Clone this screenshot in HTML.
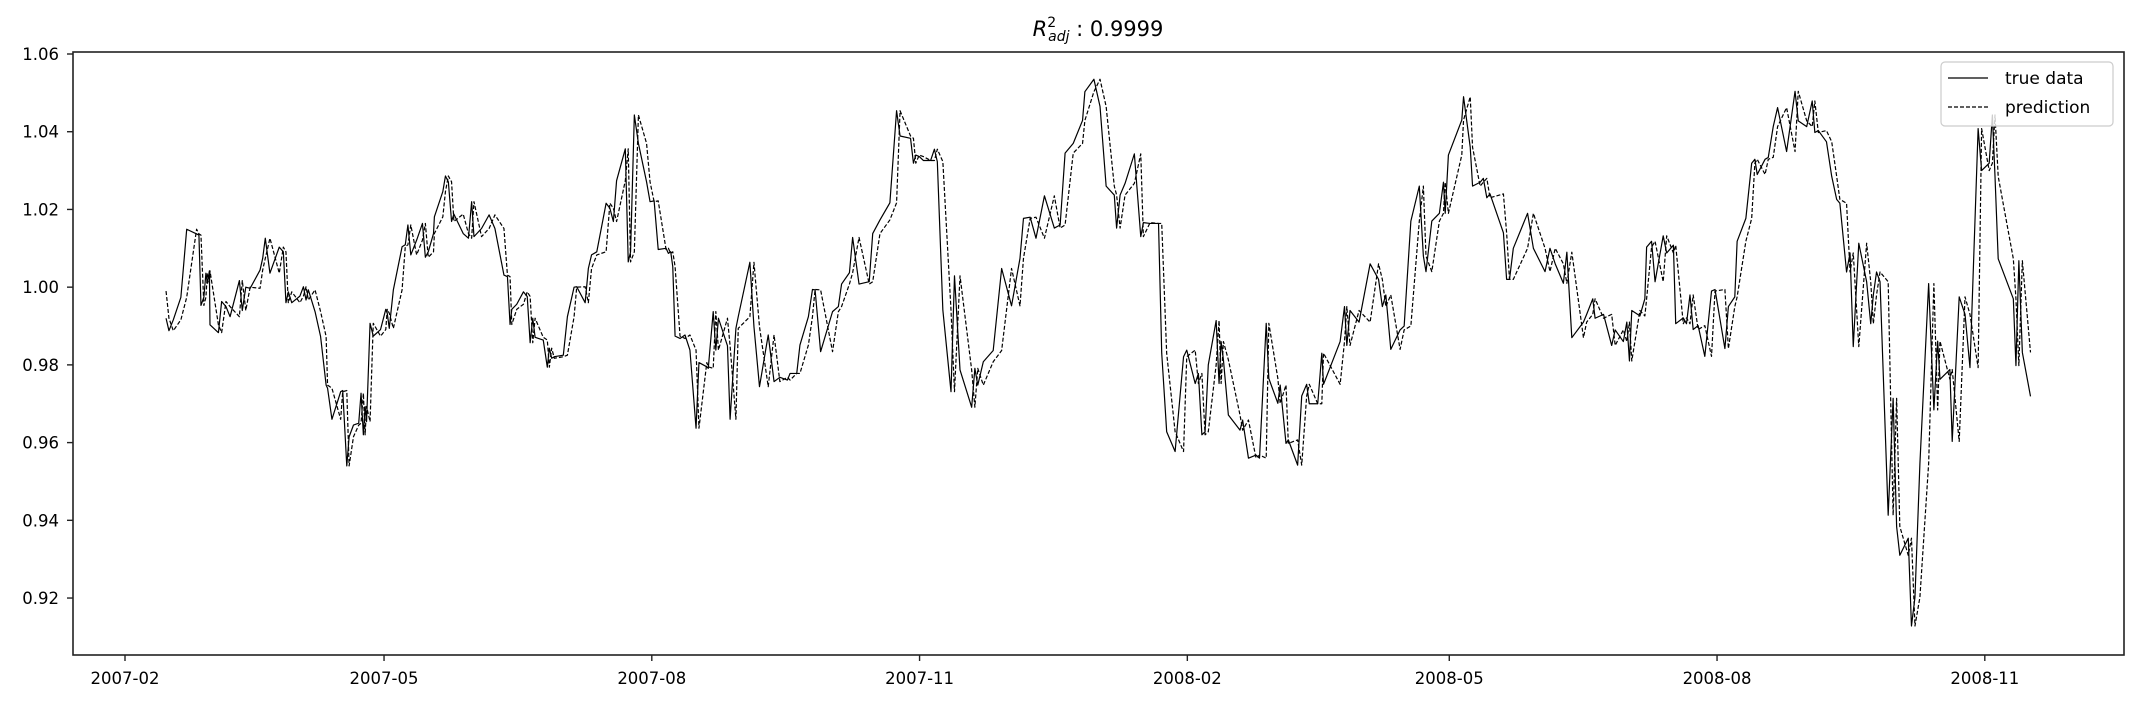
<!DOCTYPE html>
<html><head><meta charset="utf-8"><style>
html,body{margin:0;padding:0;background:#fff;}
svg{display:block;font-family:"DejaVu Sans","Liberation Sans",sans-serif;}
</style></head><body>
<svg id="chart" width="2141" height="702" viewBox="0 0 2141 702" xmlns="http://www.w3.org/2000/svg">
<rect width="2141" height="702" fill="#fff"/>
<text x="1098" y="36" font-size="21" text-anchor="middle" fill="#000"><tspan font-style="italic">R</tspan><tspan font-size="14" dy="-9">2</tspan><tspan font-size="14" font-style="italic" dx="-8" dy="14">adj</tspan><tspan dy="-5"> : 0.9999</tspan></text>
<g id="plot"></g>
<g id="axes"></g>
<g>
<rect x="1941" y="62" width="172" height="64" rx="4" fill="#fff" fill-opacity="0.8" stroke="#ccc" stroke-width="1.2"/>
<line x1="1948" y1="78" x2="1988" y2="78" stroke="#000" stroke-width="1.2"/>
<text x="2005" y="84" font-size="17">true data</text>
<line x1="1948" y1="107" x2="1988" y2="107" stroke="#000" stroke-width="1.2" stroke-dasharray="4,2"/>
<text x="2005" y="113" font-size="17">prediction</text>
</g>
</svg>
<script>
const trueDays=[14.1,15.1,16.6,19.2,21.2,24.6,25.4,26.1,27.1,27.8,28.3,29.0,29.2,32.1,33.2,34.7,36.1,39.3,40.3,41.5,43.0,46.4,47.3,48.2,49.8,53.0,54.4,55.3,56.1,57.3,60.1,61.3,62.2,63.0,65.3,67.2,69.1,69.6,71.1,74.1,74.8,76.2,77.0,78.5,80.3,81.1,81.9,82.5,83.0,84.2,85.3,87.8,89.6,90.1,90.8,92.2,95.2,96.3,97.2,98.2,100.2,102.2,103.2,104.2,106.0,106.3,109.2,110.1,111.1,112.2,113.0,116.2,118.0,119.1,119.9,122.5,125.1,127.1,130.2,131.4,132.3,132.9,134.6,136.9,138.2,139.2,140.1,140.9,143.7,145.1,145.8,146.6,147.5,150.6,152.0,154.3,155.2,158.1,159.2,160.3,162.1,165.3,166.6,167.8,168.9,171.9,172.9,173.7,175.0,176.4,179.2,180.4,181.8,183.2,185.9,186.7,187.5,188.2,189.0,190.7,192.4,194.1,196.2,197.2,199.9,200.4,202.1,203.0,203.9,207.0,207.9,209.9,210.7,214.7,216.1,218.0,221.0,223.0,225.0,227.6,228.5,230.8,231.9,234.8,236.2,237.1,239.0,243.1,245.1,246.2,248.9,250.0,252.2,255.7,256.9,259.4,262.8,265.1,266.3,269.9,270.9,271.7,272.9,274.3,276.8,278.1,279.1,281.0,283.8,285.0,286.9,290.9,292.0,293.0,294.9,298.3,301.2,304.6,307.5,308.7,311.0,313.0,315.9,319.3,321.3,323.0,325.8,329.0,329.8,332.9,335.0,337.1,339.9,340.7,341.9,343.6,346.8,349.0,349.9,352.2,355.1,356.2,357.9,360.8,363.7,364.8,367.7,368.8,370.0,371.1,372.2,374.9,375.9,376.6,377.4,379.1,383.1,384.0,386.0,388.6,389.8,392.1,393.0,396.1,396.9,398.9,399.7,402.9,404.3,406.0,406.9,409.8,411.2,411.8,417.5,419.0,419.8,420.9,424.0,427.8,430.7,432.0,433.2,434.9,438.1,439.5,441.8,444.7,446.1,447.0,449.0,451.6,453.0,453.6,454.7,459.3,459.9,462.2,463.0,465.6,466.7,467.9,469.0,473.6,474.7,475.7,477.0,481.9,483.9,487.9,489.6,491.4,494.2,495.4,497.1,501.1,502.2,504.3,505.1,508.0,510.8,512.0,514.8,516.0,516.9,517.7,520.5,522.2,522.8,524.5,525.7,528.5,529.7,532.0,532.8,535.4,536.5,537.7,538.8,540.5,542.8,545.1,546.3,549.7,550.9,553.1,553.9,556.9,558.9,560.0,560.8,563.5,564.6,566.3,567.8,570.9,573.8,574.9,577.8,579.7,580.6,581.8,584.6,586.4,588.1,589.2,591.5,592.7,593.8,595.7,598.4,599.8,600.7,601.8,603.0,605.8,607.5,608.7,609.8,612.7,613.8,615.0,616.7,619.7,621.5,622.8,623.6,627.0,627.8,630.2,632.2,633.9,636.7,637.9,640.5,641.6,642.5,643.6,648.8,649.7,650.7,651.9,654.7];
const trueValues=[0.9920,0.9888,0.9916,0.9974,1.0149,1.0137,1.0134,0.9953,0.9974,1.0036,1.0010,1.0042,0.9903,0.9883,0.9963,0.9950,0.9924,1.0017,0.9940,1.0000,0.9997,1.0044,1.0074,1.0126,1.0036,1.0103,1.0091,0.9960,0.9988,0.9960,0.9977,1.0001,0.9967,0.9993,0.9937,0.9873,0.9748,0.9740,0.9660,0.9731,0.9734,0.9540,0.9615,0.9645,0.9650,0.9727,0.9620,0.9693,0.9654,0.9907,0.9874,0.9891,0.9943,0.9933,0.9894,0.9993,1.0104,1.0109,1.0160,1.0083,1.0121,1.0164,1.0077,1.0091,1.0138,1.0181,1.0246,1.0286,1.0271,1.0169,1.0188,1.0138,1.0126,1.0220,1.0130,1.0151,1.0186,1.0151,1.0031,1.0027,0.9904,0.9943,0.9956,0.9988,0.9976,0.9857,0.9920,0.9871,0.9864,0.9794,0.9843,0.9817,0.9821,0.9825,0.9924,1.0000,1.0001,0.9960,1.0048,1.0083,1.0091,1.0216,1.0203,1.0169,1.0274,1.0356,1.0065,1.0091,1.0443,1.0370,1.0271,1.0220,1.0222,1.0097,1.0100,1.0087,1.0091,1.0053,0.9874,0.9868,0.9877,0.9838,0.9637,0.9806,0.9795,0.9791,0.9937,0.9838,0.9920,0.9849,0.9660,0.9894,0.9924,1.0064,0.9898,0.9744,0.9877,0.9757,0.9768,0.9761,0.9778,0.9778,0.9851,0.9924,0.9994,0.9993,0.9834,0.9937,0.9950,1.0008,1.0037,1.0128,1.0008,1.0014,1.0138,1.0173,1.0217,1.0454,1.0389,1.0383,1.0319,1.0340,1.0336,1.0326,1.0326,1.0355,1.0323,0.9941,0.9731,1.0029,0.9787,0.9691,0.9791,0.9748,0.9808,0.9837,1.0048,0.9952,1.0074,1.0177,1.0180,1.0126,1.0235,1.0152,1.0160,1.0345,1.0370,1.0429,1.0503,1.0535,1.0465,1.0260,1.0237,1.0152,1.0237,1.0267,1.0343,1.0130,1.0166,1.0164,1.0164,0.9830,0.9628,0.9577,0.9821,0.9838,0.9752,0.9778,0.9620,0.9628,0.9800,0.9914,0.9752,0.9860,0.9813,0.9671,0.9632,0.9658,0.9560,0.9568,0.9560,0.9907,0.9765,0.9701,0.9748,0.9598,0.9607,0.9542,0.972,0.975,0.970,0.970,0.983,0.975,0.986,0.995,0.985,0.994,0.991,1.006,1.002,0.995,0.998,0.984,0.989,0.990,1.017,1.026,1.008,1.004,1.017,1.019,1.027,1.019,1.034,1.043,1.049,1.036,1.026,1.027,1.028,1.023,1.024,1.014,1.002,1.002,1.010,1.019,1.010,1.004,1.010,1.006,1.001,1.009,0.987,0.991,0.993,0.997,0.992,0.993,0.985,0.989,0.986,0.991,0.981,0.994,0.9926,0.9970,1.0103,1.0118,1.0014,1.0132,1.0088,1.0108,0.9906,0.9921,0.9906,0.9980,0.9891,0.9901,0.9822,0.9990,0.9994,0.9842,0.9950,0.9975,1.0118,1.0177,1.0319,1.0329,1.0290,1.0329,1.0334,1.0413,1.0462,1.0349,1.0504,1.0428,1.0413,1.0479,1.0398,1.0403,1.0374,1.0285,1.0226,1.0216,1.0039,1.0088,0.9847,1.0113,1.0014,0.9906,0.9980,1.0039,1.0014,0.9413,0.9714,0.9384,0.9310,0.9354,0.9128,0.9202,0.9546,1.0009,0.9684,0.9861,0.9763,0.9788,0.9603,0.9975,0.9930,0.9793,1.0408,1.0300,1.0319,1.0443,1.0285,1.0073,0.9970,0.9798,1.0068,0.9832,0.9719];
const predDays=[14.1,15.1,16.6,19.2,21.2,24.6,25.4,26.1,27.1,27.8,28.3,29.0,29.2,32.1,33.2,34.7,36.1,39.3,40.3,41.5,43.0,46.4,47.3,48.2,49.8,53.0,54.4,55.3,56.1,57.3,60.1,61.3,62.2,63.0,65.3,67.2,69.1,69.6,71.1,74.1,74.8,76.2,77.0,78.5,80.3,81.1,81.9,82.5,83.0,84.2,85.3,87.8,89.6,90.1,90.8,92.2,95.2,96.3,97.2,98.2,100.2,102.2,103.2,104.2,106.0,106.3,109.2,110.1,111.1,112.2,113.0,116.2,118.0,119.1,119.9,122.5,125.1,127.1,130.2,131.4,132.3,132.9,134.6,136.9,138.2,139.2,140.1,140.9,143.7,145.1,145.8,146.6,147.5,150.6,152.0,154.3,155.2,158.1,159.2,160.3,162.1,165.3,166.6,167.8,168.9,171.9,172.9,173.7,175.0,176.4,179.2,180.4,181.8,183.2,185.9,186.7,187.5,188.2,189.0,190.7,192.4,194.1,196.2,197.2,199.9,200.4,202.1,203.0,203.9,207.0,207.9,209.9,210.7,214.7,216.1,218.0,221.0,223.0,225.0,227.6,228.5,230.8,231.9,234.8,236.2,237.1,239.0,243.1,245.1,246.2,248.9,250.0,252.2,255.7,256.9,259.4,262.8,265.1,266.3,269.9,270.9,271.7,272.9,274.3,276.8,278.1,279.1,281.0,283.8,285.0,286.9,290.9,292.0,293.0,294.9,298.3,301.2,304.6,307.5,308.7,311.0,313.0,315.9,319.3,321.3,323.0,325.8,329.0,329.8,332.9,335.0,337.1,339.9,340.7,341.9,343.6,346.8,349.0,349.9,352.2,355.1,356.2,357.9,360.8,363.7,364.8,367.7,368.8,370.0,371.1,372.2,374.9,375.9,376.6,377.4,379.1,383.1,384.0,386.0,388.6,389.8,392.1,393.0,396.1,396.9,398.9,399.7,402.9,404.3,406.0,406.9,409.8,411.2,411.8,417.5,419.0,419.8,420.9,424.0,427.8,430.7,432.0,433.2,434.9,438.1,439.5,441.8,444.7,446.1,447.0,449.0,451.6,453.0,453.6,454.7,459.3,459.9,462.2,463.0,465.6,466.7,467.9,469.0,473.6,474.7,475.7,477.0,481.9,483.9,487.9,489.6,491.4,494.2,495.4,497.1,501.1,502.2,504.3,505.1,508.0,510.8,512.0,514.8,516.0,516.9,517.7,520.5,522.2,522.8,524.5,525.7,528.5,529.7,532.0,532.8,535.4,536.5,537.7,538.8,540.5,542.8,545.1,546.3,549.7,550.9,553.1,553.9,556.9,558.9,560.0,560.8,563.5,564.6,566.3,567.8,570.9,573.8,574.9,577.8,579.7,580.6,581.8,584.6,586.4,588.1,589.2,591.5,592.7,593.8,595.7,598.4,599.8,600.7,601.8,603.0,605.8,607.5,608.7,609.8,612.7,613.8,615.0,616.7,619.7,621.5,622.8,623.6,627.0,627.8,630.2,632.2,633.9,636.7,637.9,640.5,641.6,642.5,643.6,648.8,649.7,650.7,651.9,654.7];
const predValues=[0.9990,0.9920,0.9888,0.9916,0.9974,1.0149,1.0137,1.0134,0.9953,0.9974,1.0036,1.0010,1.0042,0.9903,0.9883,0.9963,0.9950,0.9924,1.0017,0.9940,1.0000,0.9997,1.0044,1.0074,1.0126,1.0036,1.0103,1.0091,0.9960,0.9988,0.9960,0.9977,1.0001,0.9967,0.9993,0.9937,0.9873,0.9748,0.9740,0.9660,0.9731,0.9734,0.9540,0.9615,0.9645,0.9650,0.9727,0.9620,0.9693,0.9654,0.9907,0.9874,0.9891,0.9943,0.9933,0.9894,0.9993,1.0104,1.0109,1.0160,1.0083,1.0121,1.0164,1.0077,1.0091,1.0138,1.0181,1.0246,1.0286,1.0271,1.0169,1.0188,1.0138,1.0126,1.0220,1.0130,1.0151,1.0186,1.0151,1.0031,1.0027,0.9904,0.9943,0.9956,0.9988,0.9976,0.9857,0.9920,0.9871,0.9864,0.9794,0.9843,0.9817,0.9821,0.9825,0.9924,1.0000,1.0001,0.9960,1.0048,1.0083,1.0091,1.0216,1.0203,1.0169,1.0274,1.0356,1.0065,1.0091,1.0443,1.0370,1.0271,1.0220,1.0222,1.0097,1.0100,1.0087,1.0091,1.0053,0.9874,0.9868,0.9877,0.9838,0.9637,0.9806,0.9795,0.9791,0.9937,0.9838,0.9920,0.9849,0.9660,0.9894,0.9924,1.0064,0.9898,0.9744,0.9877,0.9757,0.9768,0.9761,0.9778,0.9778,0.9851,0.9924,0.9994,0.9993,0.9834,0.9937,0.9950,1.0008,1.0037,1.0128,1.0008,1.0014,1.0138,1.0173,1.0217,1.0454,1.0389,1.0383,1.0319,1.0340,1.0336,1.0326,1.0326,1.0355,1.0323,0.9941,0.9731,1.0029,0.9787,0.9691,0.9791,0.9748,0.9808,0.9837,1.0048,0.9952,1.0074,1.0177,1.0180,1.0126,1.0235,1.0152,1.0160,1.0345,1.0370,1.0429,1.0503,1.0535,1.0465,1.0260,1.0237,1.0152,1.0237,1.0267,1.0343,1.0130,1.0166,1.0164,1.0164,0.9830,0.9628,0.9577,0.9821,0.9838,0.9752,0.9778,0.9620,0.9628,0.9800,0.9914,0.9752,0.9860,0.9813,0.9671,0.9632,0.9658,0.9560,0.9568,0.9560,0.9907,0.9765,0.9701,0.9748,0.9598,0.9607,0.9542,0.972,0.975,0.970,0.970,0.983,0.975,0.986,0.995,0.985,0.994,0.991,1.006,1.002,0.995,0.998,0.984,0.989,0.990,1.017,1.026,1.008,1.004,1.017,1.019,1.027,1.019,1.034,1.043,1.049,1.036,1.026,1.027,1.028,1.023,1.024,1.014,1.002,1.002,1.010,1.019,1.010,1.004,1.010,1.006,1.001,1.009,0.987,0.991,0.993,0.997,0.992,0.993,0.985,0.989,0.986,0.991,0.981,0.994,0.9926,0.9970,1.0103,1.0118,1.0014,1.0132,1.0088,1.0108,0.9906,0.9921,0.9906,0.9980,0.9891,0.9901,0.9822,0.9990,0.9994,0.9842,0.9950,0.9975,1.0118,1.0177,1.0319,1.0329,1.0290,1.0329,1.0334,1.0413,1.0462,1.0349,1.0504,1.0428,1.0413,1.0479,1.0398,1.0403,1.0374,1.0285,1.0226,1.0216,1.0039,1.0088,0.9847,1.0113,1.0014,0.9906,0.9980,1.0039,1.0014,0.9413,0.9714,0.9384,0.9310,0.9354,0.9128,0.9202,0.9546,1.0009,0.9684,0.9861,0.9763,0.9788,0.9603,0.9975,0.9930,0.9793,1.0408,1.0300,1.0319,1.0443,1.0285,1.0073,0.9970,0.9798,1.0068,0.9832];
const yTickValues=[0.92,0.94,0.96,0.98,1.00,1.02,1.04,1.06];
const xTickDays=[0,89,181,273,365,455,547,639];
const xTickLabels=["2007-02","2007-05","2007-08","2007-11","2008-02","2008-05","2008-08","2008-11"];

const NS="http://www.w3.org/2000/svg";
const L=73,R=2124,T=52,B=655;
function xScale(d){return 125+d*2.9105;}
function yScale(v){return 54+(1.06-v)*3886;}
const plot=document.getElementById('plot');
const axes=document.getElementById('axes');
function mk(tag,attrs,parent){const e=document.createElementNS(NS,tag);for(const k in attrs)e.setAttribute(k,attrs[k]);parent.appendChild(e);return e;}

function drawLine(days,vals,dash,name){
  let d='';
  for(let i=0;i<days.length;i++){d+=(i?'L':'M')+xScale(days[i]).toFixed(2)+','+yScale(vals[i]).toFixed(2);}
  const p=mk('path',{d:d,fill:'none',stroke:'#000','stroke-width':'1.2','stroke-linejoin':'round'},plot);
  if(dash)p.setAttribute('stroke-dasharray','4,2');
  
  
}
drawLine(predDays,predValues,true,'prediction-line');
drawLine(trueDays,trueValues,false,'true-data-line');

const frame=mk('rect',{x:L,y:T,width:R-L,height:B-T,fill:'none',stroke:'#222','stroke-width':'1.6'},axes);



yTickValues.forEach(v=>{
  const y=yScale(v);
  const t=mk('line',{x1:L-6,x2:L,y1:y,y2:y,stroke:'#222','stroke-width':'1.4'},axes);
  
  
  const tx=mk('text',{x:L-14,y:y+6,'font-size':'16.5','text-anchor':'end',fill:'#000'},axes);
  tx.textContent=v.toFixed(2);
  
  
});
xTickDays.forEach((d,i)=>{
  const x=xScale(d);
  const t=mk('line',{x1:x,x2:x,y1:B,y2:B+6,stroke:'#222','stroke-width':'1.4'},axes);
  
  
  const tx=mk('text',{x:x,y:B+29,'font-size':'16.5','text-anchor':'middle',fill:'#000'},axes);
  tx.textContent=xTickLabels[i];
  
  
});
</script>
</body></html>
